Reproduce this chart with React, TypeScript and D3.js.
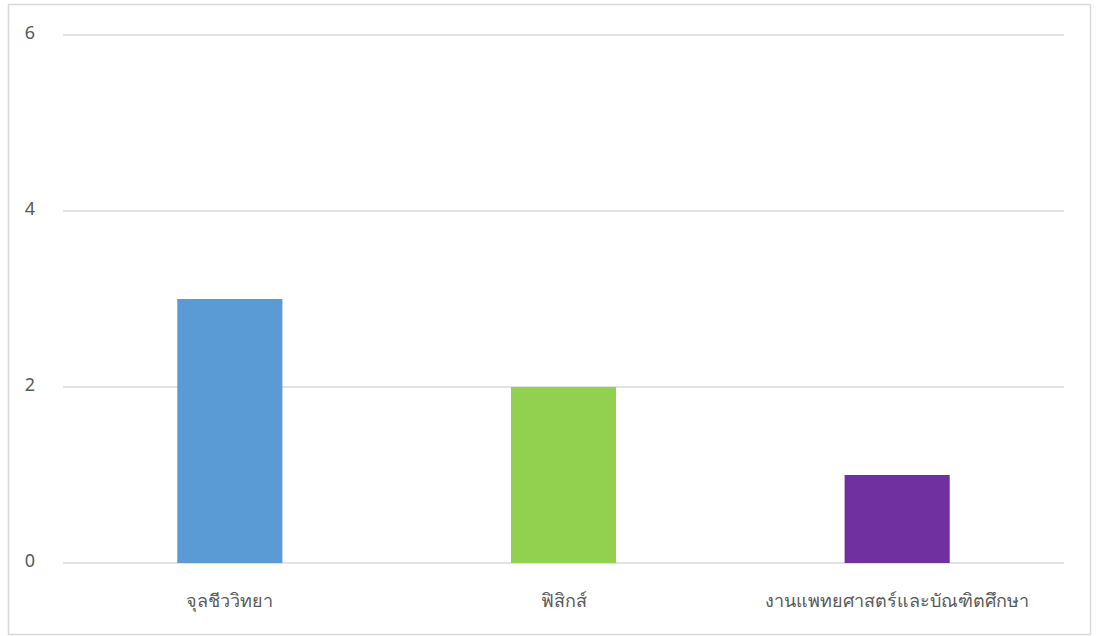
import React from 'react';
import * as d3 from 'd3';

const categories = ['จุลชีววิทยา', 'ฟิสิกส์', 'งานแพทยศาสตร์และบัณฑิตศึกษา'];
const values = [3, 2, 1];
const barColors = ['#5B9BD5', '#92D050', '#7030A0'];
const yTicks = [0, 2, 4, 6];

const WIDTH = 1097;
const HEIGHT = 636;
const margin = { top: 35, right: 33, bottom: 73, left: 63 };
const FONT = '"Noto Sans", "DejaVu Sans", sans-serif';

export default function App() {
  const chartWidth = WIDTH - margin.left - margin.right;
  const chartHeight = HEIGHT - margin.top - margin.bottom;

  const xScale = d3
    .scaleBand<string>()
    .domain(categories)
    .range([0, chartWidth])
    .paddingInner(0.685)
    .paddingOuter(0.3425);

  const yScale = d3.scaleLinear().domain([0, 6]).range([chartHeight, 0]);

  return (
    <>
      <style>{'body{margin:0}'}</style>
      <svg width={WIDTH} height={HEIGHT} style={{ display: 'block' }}>
        <rect x={0} y={0} width={WIDTH} height={HEIGHT} fill="#ffffff" />
        {/* chart frame */}
        <rect
          x={8.5}
          y={4.5}
          width={1082}
          height={630}
          fill="#ffffff"
          stroke="#d9d9d9"
          strokeWidth={1.5}
        />
        <g transform={`translate(${margin.left},${margin.top})`}>
          {/* gridlines + y labels */}
          {yTicks.map(t => (
            <g key={t}>
              <line
                x1={0}
                x2={chartWidth}
                y1={yScale(t)}
                y2={yScale(t)}
                stroke="#d9d9d9"
                strokeWidth={1.5}
              />
              <text
                x={-33}
                y={yScale(t) + 4}
                fontSize={18}
                fontFamily={FONT}
                fill="#595959"
                textAnchor="middle"
              >
                {t}
              </text>
            </g>
          ))}
          {/* bars */}
          {categories.map((c, i) => (
            <rect
              key={c}
              x={xScale(c)}
              y={yScale(values[i])}
              width={xScale.bandwidth()}
              height={chartHeight - yScale(values[i])}
              fill={barColors[i]}
            />
          ))}
          {/* x labels */}
          {categories.map(c => (
            <text
              key={c}
              x={(xScale(c) || 0) + xScale.bandwidth() / 2}
              y={chartHeight + 44}
              fontSize={18}
              fontFamily={FONT}
              fill="#595959"
              textAnchor="middle"
            >
              {c}
            </text>
          ))}
        </g>
      </svg>
    </>
  );
}
